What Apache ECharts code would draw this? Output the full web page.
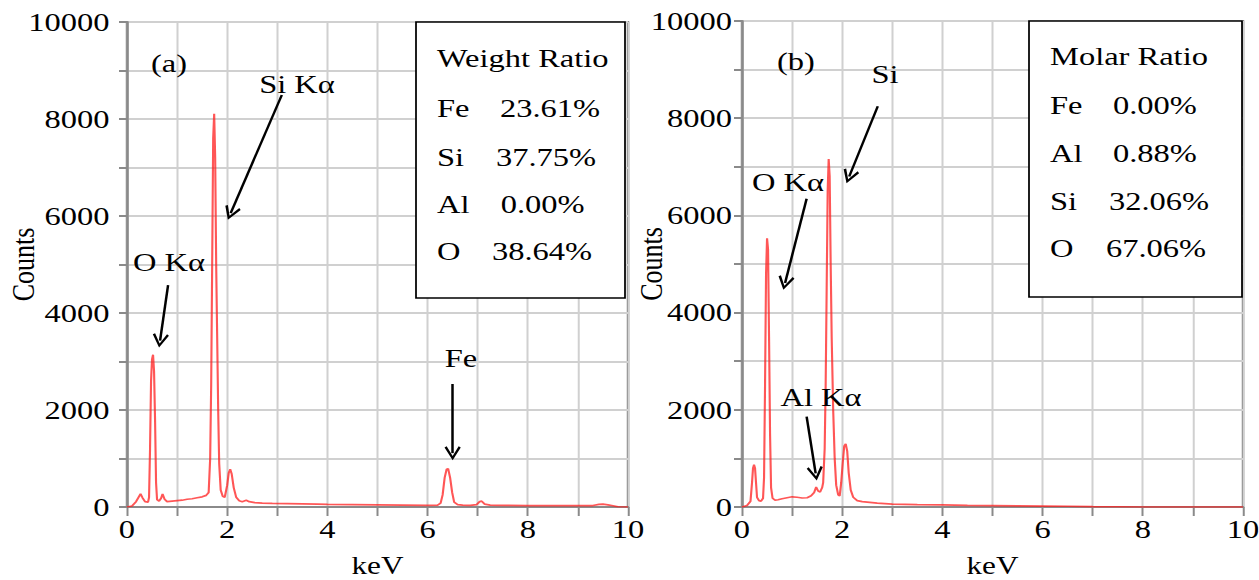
<!DOCTYPE html>
<html>
<head>
<meta charset="utf-8">
<script src="https://cdn.jsdelivr.net/npm/echarts@6/dist/echarts.min.js"></script>
<style>
  body { margin: 0; background: #fff; }
  /* the reference picture is stretched horizontally, so the chart is too */
  #eds { width: 1007.2px; height: 580px; transform: scaleX(1.25); transform-origin: 0 0; }
</style>
</head>
<body>
<div id="eds"></div>
<script>
// spectrum (a)
const keVA = [0, 0.1, 0.18, 0.23, 0.27, 0.31, 0.36, 0.42, 0.44, 0.46, 0.48, 0.50, 0.52, 0.54, 0.56, 0.58, 0.60, 0.64, 0.68, 0.71, 0.75, 0.8,
  0.9, 1.0, 1.1, 1.2, 1.3, 1.4, 1.5, 1.58, 1.63, 1.66, 1.68, 1.70, 1.72, 1.74, 1.76, 1.78, 1.80, 1.82, 1.84, 1.87, 1.91, 1.95,
  2.0, 2.03, 2.06, 2.09, 2.13, 2.18, 2.24, 2.3, 2.38, 2.44, 2.55, 2.7, 2.9, 3.2, 3.5, 3.8, 4.0, 4.5, 5.0, 5.5, 6.0, 6.2,
  6.26, 6.3, 6.34, 6.38, 6.41, 6.45, 6.49, 6.53, 6.6, 6.7, 6.85, 6.98, 7.04, 7.08, 7.14, 7.25, 7.5, 8.0, 8.5, 9.0, 9.3,
  9.42, 9.5, 9.6, 9.7, 9.8, 10];
const countsA = [0, 20, 110, 200, 270, 190, 110, 100, 200, 1200, 2600, 3050, 3140, 2800, 1800, 500, 150, 120, 180, 270, 160, 110,
  120, 130, 140, 160, 170, 190, 210, 240, 300, 1000, 2500, 5000, 7600, 8110, 7200, 5000, 3500, 2000, 900, 350, 220, 200,
  450, 700, 780, 680, 400, 200, 130, 110, 140, 110, 90, 80, 75, 70, 65, 60, 55, 50, 45, 40, 35, 40,
  80, 250, 600, 780, 790, 600, 300, 100, 50, 40, 35, 50, 110, 120, 60, 40, 35, 30, 30, 28, 30,
  55, 60, 45, 25, 5, 0];

// spectrum (b)
const keVB = [0, 0.1, 0.17, 0.2, 0.22, 0.24, 0.26, 0.28, 0.3, 0.34, 0.38, 0.42, 0.44, 0.46, 0.48, 0.50, 0.52, 0.54, 0.56, 0.58,
  0.61, 0.66, 0.72, 0.8, 0.9, 1.0, 1.1, 1.2, 1.3, 1.38, 1.44, 1.48, 1.52, 1.56, 1.6, 1.62, 1.65, 1.67, 1.69, 1.71, 1.73, 1.75,
  1.77, 1.79, 1.82, 1.85, 1.88, 1.92, 1.95, 1.98, 2.01, 2.04, 2.07, 2.1, 2.13, 2.17, 2.22, 2.3, 2.4, 2.5, 2.7, 3.0, 3.5,
  4.0, 4.5, 5.0, 5.5, 6.0, 6.5, 7.0, 7.5, 8.0, 10];
const countsB = [0, 30, 120, 500, 800, 870, 800, 500, 200, 130, 120, 180, 600, 2500, 4800, 5530, 5300, 3500, 1500, 400,
  180, 140, 150, 170, 190, 210, 200, 185, 190, 230, 300, 410, 330, 310, 400, 500, 1200, 2500, 4500, 6500, 7160, 6800,
  5000, 3500, 2000, 1000, 450, 250, 230, 500, 900, 1250, 1300, 1150, 700, 350, 200, 130, 110, 100, 80, 60, 50,
  45, 35, 30, 25, 20, 15, 8, 5, 0, 0];

const ratioA = [['Weight Ratio', ''], ['Fe', '23.61%'], ['Si', '37.75%'], ['Al', '0.00%'], ['O', '38.64%']];
const ratioB = [['Molar Ratio', ''], ['Fe', '0.00%'], ['Al', '0.88%'], ['Si', '32.06%'], ['O', '67.06%']];

// arrows: [fromKeV, fromCounts, toKeV, toCounts]
const arrowsA = [[3.09, 8495, 2.07, 6060], [0.82, 4577, 0.66, 3430], [6.50, 2536, 6.50, 1110]];
const arrowsB = [[2.71, 8247, 2.14, 6800], [1.29, 6344, 0.86, 4610], [1.29, 1862, 1.47, 690]];

const S = 1.25;
const FONT = 'Liberation Serif';
const head = 'path://M5,0 L10,9 L8.7,10 L5,3 L1.3,10 L0,9 Z';

function axisX(gridIndex) {
  return {
    type: 'value', gridIndex, min: 0, max: 10, interval: 1,
    name: 'keV', nameLocation: 'middle', nameGap: 46,
    nameTextStyle: { fontFamily: FONT, fontSize: 25, color: '#000' },
    axisLine: { lineStyle: { color: '#8a8a8a', width: 2 } },
    axisTick: { show: true, length: 9, lineStyle: { color: '#8a8a8a', width: 1.6 } },
    axisLabel: { margin: 9, fontFamily: FONT, fontSize: 26, color: '#000',
      formatter: v => (v % 2 ? '' : v) },
    splitLine: { show: true, lineStyle: { color: '#d0d0d0', width: 1.6 } }
  };
}

function axisY(gridIndex, margin, nameGap) {
  return {
    type: 'value', gridIndex, min: 0, max: 10000, interval: 1000,
    name: 'Counts', nameLocation: 'middle', nameGap, nameRotate: 90, nameMoveOverlap: false,
    nameTextStyle: { fontFamily: FONT, fontSize: 26, color: '#000' },
    axisLine: { show: true, lineStyle: { color: '#8a8a8a', width: 2 } },
    axisTick: { show: true, length: 6.4, lineStyle: { color: '#8a8a8a', width: 2 } },
    axisLabel: { margin, fontFamily: FONT, fontSize: 26, color: '#000',
      formatter: v => (v % 2000 ? '' : v) },
    splitLine: { show: true, lineStyle: { color: '#d0d0d0', width: 2 } }
  };
}

function spectrum(idx, xs, ys, arrows) {
  return {
    type: 'line', xAxisIndex: idx, yAxisIndex: idx,
    data: xs.map((x, i) => [x, ys[i]]),
    showSymbol: false,
    lineStyle: { color: 'rgba(255,30,30,0.75)', width: 1.7 },
    markLine: {
      silent: true, symbol: ['none', head], symbolSize: [13, 14],
      lineStyle: { color: '#000', width: 2, type: 'solid' },
      label: { show: false },
      data: arrows.map(a => [{ coord: [a[0], a[1]] }, { coord: [a[2], a[3]] }])
    }
  };
}

function label(text, x, y, align) {
  return { type: 'text', x: x / S, y, z: 100,
    style: { text, fontFamily: FONT, fontSize: 26, fill: '#000', align: align || 'center', verticalAlign: 'middle' } };
}

function ratioBox(rows, box, rowY, keyX, valX) {
  const els = [{ type: 'rect', z: 90,
    shape: { x: box[0] / S, y: box[1], width: (box[2] - box[0]) / S, height: box[3] - box[1] },
    style: { fill: '#fff', stroke: '#000', lineWidth: 1.4 } }];
  rows.forEach((r, i) => {
    els.push(label(r[0], keyX, rowY[i], 'left'));
    if (r[1]) els.push(label(r[1], valX[i], rowY[i], 'left'));
  });
  return els;
}

const chart = echarts.init(document.getElementById('eds'), null, { renderer: 'svg' });

const option = {
  animation: false,
  backgroundColor: '#fff',
  textStyle: { fontFamily: FONT },
  grid: [
    { left: 127 / S, top: 22, width: 501 / S, height: 485, outerBoundsMode: 'none',
      show: true, borderColor: '#8a8a8a', borderWidth: 2 },
    { left: 742 / S, top: 21, width: 501 / S, height: 486, outerBoundsMode: 'none',
      show: true, borderColor: '#8a8a8a', borderWidth: 2 }
  ],
  xAxis: [axisX(0), axisX(1)],
  yAxis: [axisY(0, 14, 70), axisY(1, 8, 60)],
  series: [spectrum(0, keVA, countsA, arrowsA), spectrum(1, keVB, countsB, arrowsB)],
  graphic: [
    ...ratioBox(ratioA, [416, 22, 625, 298], [58, 108, 157, 204, 251], 437, [0, 500, 496, 500.7, 492]),
    ...ratioBox(ratioB, [1029, 21, 1242, 297], [56, 105, 153, 201, 248], 1050, [0, 1113, 1113, 1109, 1106]),
    label('(a)', 169, 63),
    label('Si Kα', 297, 84),
    label('O Kα', 169, 262),
    label('Fe', 461, 358),
    label('(b)', 796, 61),
    label('Si', 885, 74),
    label('O Kα', 788, 182),
    label('Al Kα', 821, 397)
  ]
};

chart.setOption(option);
</script>
</body>
</html>
